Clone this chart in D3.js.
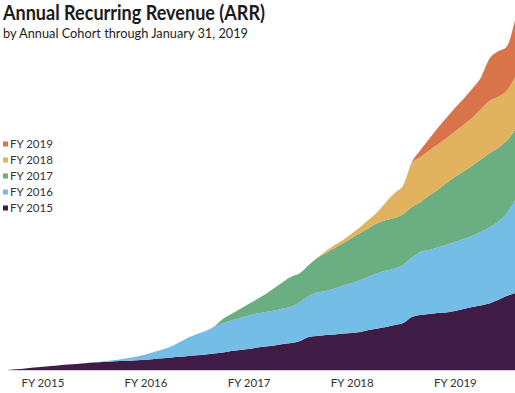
<!DOCTYPE html>
<html><head><meta charset="utf-8">
<script src="https://cdn.jsdelivr.net/npm/d3@7"></script>
<style>
html,body{margin:0;padding:0;background:#fff;overflow:hidden}
svg{display:block}
</style></head>
<body><svg id="c" width="515" height="393"></svg>
<script>
// monthly points, March 2014 .. January 2019
const months = d3.range(60).map(i => {
  const d = new Date(2014, 2 + i, 1);
  return d3.timeFormat("%Y-%m")(d);
});
const cohorts = ["FY 2015", "FY 2016", "FY 2017", "FY 2018", "FY 2019"];
const colors = ["#3f1c45", "#74bde6", "#6aae82", "#e2b35e", "#d9744a"];
const tickMonths = ["2014-07", "2015-07", "2016-07", "2017-07", "2018-07"];
const tickLabels = ["FY 2015", "FY 2016", "FY 2017", "FY 2018", "FY 2019"];

const fy2015 = [0,0.7,1.5,2.4,3.2,4,4.8,5.5,6.1,6.8, 7.5,8.1,8.5,8.9,9.3,9.7,10.2,11,11.7,12.5,
  13.2,14,14.7,15.5,16.5,17.5,19,20,21,22.5, 23.5,24.5,26,27,29,33,34,35,35.5,36.5,
  37,38,40,41.5,43,45,47,53,55,56, 57,57.5,59,61,63,64.5,66.5,70,74,77];
const fy2016 = [0,0,0,0,0,0,0,0,0,0, 0,0.4,1,1.6,2.7,3.8,5.3,7,8.8,11,
  14.8,18.5,21.3,23.5,26.5,29.5,30.5,32,33.5,34, 34.5,35,35.5,36.5,39,41,43.5,44,46,48,
  50,52,53.5,55.5,56.5,56.5,58,59.5,63,64, 65.5,67.5,69,70,71,73.5,76,78,82,93];
const fy2017 = [0,0,0,0,0,0,0,0,0,0, 0,0,0,0,0,0,0,0,0,0,
  0,0,0,0,0.5,4,6.5,9,11.5,14.5, 18,22.5,26.5,30,29,31,34.5,38,40.5,42.5,
  45,47,48.5,50,50.5,50.5,51,50.5,50,54.5, 57.5,62,65,67.5,70,72.5,74,74,73,70];
const fy2018 = [0,0,0,0,0,0,0,0,0,0, 0,0,0,0,0,0,0,0,0,0,
  0,0,0,0,0,0,0,0,0,0, 0,0,0,0,0,0,0.5,2,3,3,
  4.5,6,8.5,11,18,25,29,44,45,45, 45.5,44.5,45.5,46.5,48,50,52.5,51,50,53];
const fy2019 = [0,0,0,0,0,0,0,0,0,0, 0,0,0,0,0,0,0,0,0,0,
  0,0,0,0,0,0,0,0,0,0, 0,0,0,0,0,0,0,0,0,0,
  0,0,0,0,0,0,0,1,7,11.5, 16.5,20.5,23.5,26,29,31.5,42,45.5,44,57];

const series = [fy2015, fy2016, fy2017, fy2018, fy2019];
const table = months.map((m, i) => {
  const row = {month: m};
  cohorts.forEach((c, k) => row[c] = series[k][i]);
  return row;
});

const svg = d3.select("#c");
const x = d3.scalePoint().domain(months).range([8, 515]).padding(0);
const y = d3.scaleLinear().domain([0, 350]).range([370, 20]);

const stacked = d3.stack().keys(cohorts)(table);
const area = d3.area()
  .x(d => x(d.data.month))
  .y0(d => y(d[0]))
  .y1(d => y(d[1]))
  .curve(d3.curveMonotoneX);

svg.append("g").selectAll("path").data(stacked).join("path")
  .attr("d", area)
  .attr("fill", (d, i) => colors[i]);

// baseline
svg.append("line").attr("x1", 8).attr("x2", 515).attr("y1", y(0) + 0.5).attr("y2", y(0) + 0.5)
  .attr("stroke", "#d9d4dc").attr("stroke-width", 1);

// x axis
const axis = d3.axisBottom(x).tickValues(tickMonths)
  .tickFormat(m => tickLabels[tickMonths.indexOf(m)]).tickSize(0).tickPadding(9);
const gx = svg.append("g").attr("transform", `translate(0,${y(0)})`).call(axis);
gx.select(".domain").remove();
gx.selectAll("text").attr("font-family", "Lato, 'Liberation Sans', Arial, sans-serif")
  .attr("font-size", 11.5).attr("fill", "#333");

// title
svg.append("text").attr("x", 3).attr("y", 20)
  .attr("font-family", "Lato, Inter, Roboto, sans-serif").attr("font-weight", 700)
  .attr("font-size", 21).attr("fill", "#1a1a1a")
  .attr("textLength", 262).attr("lengthAdjust", "spacingAndGlyphs")
  .text("Annual Recurring Revenue (ARR)");
svg.append("text").attr("x", 3).attr("y", 38)
  .attr("font-family", "Lato, Inter, Roboto, sans-serif")
  .attr("font-size", 14).attr("fill", "#222")
  .attr("textLength", 245).attr("lengthAdjust", "spacingAndGlyphs")
  .text("by Annual Cohort through January 31, 2019");

// legend
const legOrder = cohorts.map((c, i) => ({c, col: colors[i]})).reverse();
const lg = svg.append("g").selectAll("g").data(legOrder).join("g")
  .attr("transform", (d, i) => `translate(3,${144 + i * 16})`);
lg.append("rect").attr("x", 0).attr("y", -2.5).attr("width", 5).attr("height", 5).attr("fill", d => d.col);
lg.append("text").attr("x", 7).attr("y", 4)
  .attr("font-family", "Lato, 'Liberation Sans', Arial, sans-serif")
  .attr("font-size", 11.5).attr("fill", "#333").text(d => d.c);
</script></body></html>
